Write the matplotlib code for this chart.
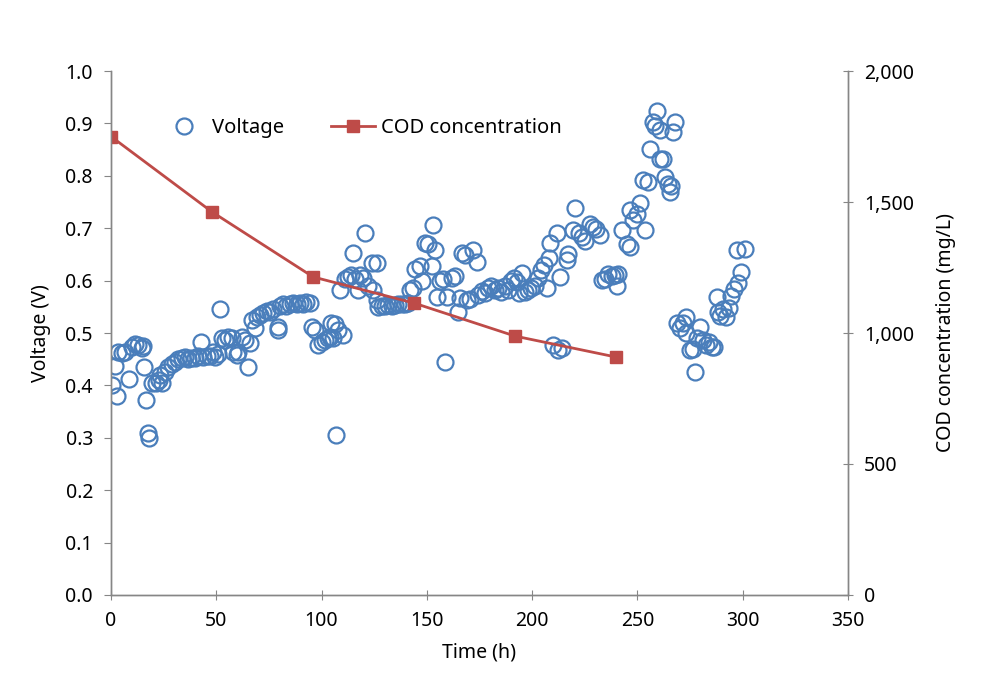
import matplotlib
matplotlib.use("Agg")
import matplotlib.pyplot as plt
from matplotlib.ticker import FuncFormatter, MultipleLocator

plt.rcParams['font.family'] = ['Noto Sans', 'DejaVu Sans']

# Voltage data (time h, voltage V)
time_v = [0.6, 1.9, 2.7, 3.5, 5.0, 6.6, 8.5, 9.8, 11.4, 13.0, 14.6, 15.3, 15.7, 16.5, 17.4, 18.2,
          19.6, 21.2, 22.8, 23.3, 24.0, 25.6, 27.2, 28.8, 30.4, 32.0, 33.5, 35.0, 36.6, 38.2, 39.8,
          41.3, 42.7, 43.9, 45.5, 47.1, 48.6, 49.4, 51.0, 51.8, 52.6, 54.2, 55.7, 57.3, 58.1, 59.7,
          60.5, 62.0, 63.6, 64.9, 66.1, 66.8, 68.4, 69.2, 70.8, 72.3, 73.9, 75.5, 77.1, 79.1, 79.4,
          80.2, 81.8, 83.3, 84.9, 86.5, 88.1, 89.6, 91.2, 92.8, 94.4, 95.6, 96.8, 98.4, 100.0, 101.5,
          103.0, 103.9, 104.7, 105.6, 106.4, 106.8, 108.0, 108.7, 110.3, 111.0, 112.6, 114.2, 115.0,
          115.8, 117.4, 118.2, 119.8, 120.6, 122.2, 123.8, 124.6, 126.2, 126.5, 127.0, 128.6, 130.2,
          131.7, 133.3, 134.9, 136.5, 138.1, 139.6, 141.2, 142.0, 143.6, 144.4, 146.7, 147.5, 149.1,
          150.6, 152.3, 152.7, 153.8, 154.6, 156.3, 157.8, 158.6, 159.4, 161.8, 163.4, 164.9, 165.7,
          166.5, 168.1, 168.9, 170.5, 172.0, 173.6, 174.4, 176.0, 177.5, 179.1, 180.7, 182.3, 183.8,
          185.4, 187.0, 188.6, 190.0, 191.5, 193.0, 194.0, 195.0, 196.5, 198.1, 199.7, 201.3, 202.9,
          204.0, 205.5, 207.0, 208.0, 208.5, 210.0, 211.7, 212.4, 213.2, 214.0, 216.4, 217.2, 219.5,
          220.3, 222.1, 223.7, 225.3, 227.4, 228.9, 230.5, 232.1, 233.0, 234.6, 236.1, 237.7, 239.3,
          240.1, 241.0, 242.5, 244.9, 246.4, 246.5, 248.0, 249.6, 251.2, 252.8, 253.5, 255.2, 255.9,
          257.5, 258.3, 259.1, 260.6, 260.7, 262.3, 263.0, 264.6, 265.4, 266.0, 267.0, 267.8, 268.8,
          270.0, 271.5, 273.0, 273.3, 275.0, 276.5, 277.3, 278.5, 279.7, 281.0, 282.5, 284.0, 285.4,
          286.4, 287.6, 288.4, 289.2, 290.8, 292.3, 293.5, 294.5, 296.0, 297.1, 297.6, 299.4, 301.0]
voltage = [0.400, 0.437, 0.380, 0.464, 0.462, 0.464, 0.412, 0.474, 0.479, 0.477, 0.472, 0.475, 0.435,
           0.372, 0.309, 0.300, 0.405, 0.404, 0.410, 0.420, 0.404, 0.426, 0.436, 0.440, 0.445, 0.450,
           0.452, 0.454, 0.451, 0.452, 0.453, 0.456, 0.483, 0.454, 0.457, 0.456, 0.464, 0.454, 0.459,
           0.545, 0.490, 0.487, 0.493, 0.490, 0.464, 0.458, 0.464, 0.493, 0.487, 0.436, 0.481, 0.525,
           0.509, 0.531, 0.535, 0.538, 0.542, 0.540, 0.546, 0.506, 0.512, 0.552, 0.555, 0.552, 0.556,
           0.558, 0.555, 0.558, 0.556, 0.560, 0.557, 0.511, 0.506, 0.477, 0.482, 0.487, 0.490, 0.493,
           0.520, 0.490, 0.518, 0.305, 0.506, 0.582, 0.496, 0.604, 0.607, 0.610, 0.652, 0.604, 0.582,
           0.610, 0.605, 0.690, 0.590, 0.633, 0.583, 0.633, 0.563, 0.550, 0.552, 0.551, 0.553, 0.552,
           0.554, 0.556, 0.555, 0.556, 0.558, 0.582, 0.586, 0.623, 0.627, 0.600, 0.671, 0.669, 0.628,
           0.706, 0.658, 0.569, 0.600, 0.603, 0.445, 0.568, 0.605, 0.608, 0.541, 0.567, 0.652, 0.649,
           0.563, 0.565, 0.658, 0.636, 0.573, 0.580, 0.577, 0.586, 0.590, 0.583, 0.586, 0.579, 0.590,
           0.583, 0.600, 0.605, 0.598, 0.576, 0.614, 0.579, 0.582, 0.586, 0.590, 0.605, 0.620, 0.630,
           0.585, 0.643, 0.671, 0.477, 0.690, 0.468, 0.607, 0.471, 0.639, 0.650, 0.697, 0.738, 0.690,
           0.683, 0.675, 0.709, 0.703, 0.698, 0.688, 0.601, 0.604, 0.613, 0.608, 0.610, 0.590, 0.612,
           0.697, 0.670, 0.735, 0.664, 0.715, 0.727, 0.749, 0.792, 0.696, 0.789, 0.852, 0.903, 0.895,
           0.924, 0.888, 0.833, 0.833, 0.798, 0.785, 0.770, 0.780, 0.883, 0.903, 0.520, 0.510, 0.520,
           0.530, 0.500, 0.468, 0.470, 0.426, 0.490, 0.512, 0.487, 0.477, 0.483, 0.473, 0.474, 0.569,
           0.540, 0.533, 0.545, 0.531, 0.548, 0.570, 0.584, 0.658, 0.595, 0.617, 0.661]

# COD data
time_cod = [0, 48, 96, 144, 192, 240]
cod = [1750, 1462, 1214, 1114, 988, 908]

x_ticks = [0, 50, 100, 150, 200, 250, 300, 350]

blue = '#4A7EBB'
red = '#BE4B48'
spine_col = '#868686'

fig = plt.figure(figsize=(9.86, 6.95), dpi=100)
ax = fig.add_axes([0.1126, 0.1439, 0.7474, 0.7539])
ax2 = ax.twinx()

ax.plot(time_v, voltage, linestyle='none', marker='o', markersize=11.5,
        markerfacecolor='none', markeredgecolor=blue, markeredgewidth=1.6, label='Voltage')
ax2.plot(time_cod, cod, color=red, linewidth=2, marker='s', markersize=8,
         markerfacecolor=red, markeredgecolor=red, label='COD concentration')

ax.set_xlim(0, 350)
ax.set_ylim(0, 1.0)
ax2.set_ylim(0, 2000)
ax.set_xticks(x_ticks)
ax.yaxis.set_major_locator(MultipleLocator(0.1))
ax.yaxis.set_major_formatter(FuncFormatter(lambda v, p: f"{v:.1f}"))
ax2.yaxis.set_major_locator(MultipleLocator(500))
ax2.yaxis.set_major_formatter(FuncFormatter(lambda v, p: f"{int(v):,}"))

for a in (ax, ax2):
    a.spines['top'].set_visible(False)
    for s in ('left', 'right', 'bottom'):
        a.spines[s].set_color(spine_col)
        a.spines[s].set_linewidth(1)

ax.tick_params(axis='y', direction='out', length=5, color=spine_col, labelsize=14, pad=8)
ax.tick_params(axis='x', direction='inout', length=7, color=spine_col, labelsize=14, pad=8)
ax2.tick_params(axis='y', direction='inout', length=7, color=spine_col, labelsize=14, pad=8)

ax.set_xlabel('Time (h)', fontsize=14, labelpad=8)
ax.set_ylabel('Voltage (V)', fontsize=14, labelpad=10)
ax2.set_ylabel('COD concentration (mg/L)', fontsize=14, labelpad=16)

h1, l1 = ax.get_legend_handles_labels()
h2, l2 = ax2.get_legend_handles_labels()
ax2.legend(h1 + h2, l1 + l2, loc='center left', bbox_to_anchor=(0.069, 0.891), ncol=2,
           frameon=False, fontsize=14.5, handlelength=2.2, handletextpad=0.3, columnspacing=2.3,
           borderpad=0, borderaxespad=0)

fig.savefig('out.png', dpi=100)
